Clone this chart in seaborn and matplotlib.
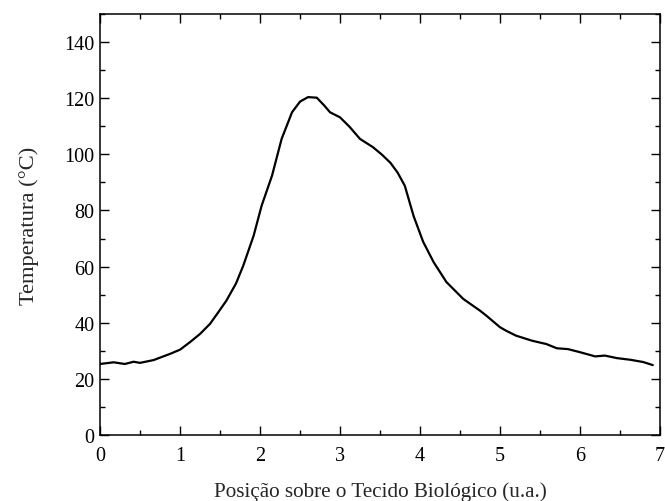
import matplotlib
matplotlib.use("Agg")
import matplotlib.pyplot as plt
import seaborn as sns
import pandas as pd
from matplotlib.ticker import MultipleLocator

posicao = [0.0, 0.17, 0.31, 0.42, 0.5, 0.67, 0.875, 1.0, 1.125, 1.25, 1.375, 1.48,
           1.58, 1.7, 1.79, 1.92, 2.02, 2.15, 2.27, 2.40, 2.5, 2.6, 2.71, 2.8, 2.875,
           3.0, 3.12, 3.25, 3.41, 3.52, 3.63, 3.72, 3.81, 3.92, 4.04, 4.17, 4.33,
           4.54, 4.75, 4.83, 5.0, 5.08, 5.2, 5.4, 5.58, 5.71, 5.85, 6.0, 6.19, 6.31,
           6.46, 6.63, 6.79, 6.91]
temperatura = [25.3, 25.9, 25.3, 26.1, 25.7, 26.7, 28.9, 30.4, 33.1, 36.0, 39.6, 43.8,
               47.9, 54.0, 60.3, 71.0, 81.7, 92.4, 105.5, 115.0, 118.8, 120.4, 120.2, 117.5, 115.0,
               113.2, 109.8, 105.5, 102.6, 100.0, 97.0, 93.5, 88.8, 78.0, 68.8, 61.6, 54.5,
               48.5, 44.3, 42.5, 38.4, 37.1, 35.4, 33.6, 32.4, 30.9, 30.6, 29.5, 28.0, 28.3,
               27.4, 26.8, 26.0, 24.9]

df = pd.DataFrame({"x": posicao, "y": temperatura})

sns.set_style("ticks")
plt.rcParams["font.family"] = ["Liberation Serif", "DejaVu Serif"]

fig = plt.figure(figsize=(6.65, 5.02), dpi=100)
ax = fig.add_axes([0.1504, 0.1315, 0.8421, 0.8385])

sns.lineplot(data=df, x="x", y="y", ax=ax, color="black", linewidth=1.6, sort=False)

ax.set_xlim(0, 7)
ax.set_ylim(0, 150)
ax.xaxis.set_major_locator(MultipleLocator(1))
ax.xaxis.set_minor_locator(MultipleLocator(0.5))
ax.yaxis.set_minor_locator(MultipleLocator(10))
ax.set_yticks([0, 20, 40, 60, 80, 100, 120, 140])

ax.tick_params(which="both", direction="in", top=True, right=True, width=1.0, colors="black",
               labelsize=14.5)
ax.tick_params(which="major", length=6.5)
ax.tick_params(which="minor", length=3.6)
ax.tick_params(axis="x", which="major", pad=8)
ax.tick_params(axis="y", which="major", pad=4)

for s in ax.spines.values():
    s.set_linewidth(1.1)
    s.set_color("black")

ax.set_xlabel("Posição sobre o Tecido Biológico (u.a.)", fontsize=15.2, labelpad=12)
ax.set_ylabel("Temperatura (°C)", fontsize=16.2, labelpad=18)

fig.savefig("out.png", dpi=100)
